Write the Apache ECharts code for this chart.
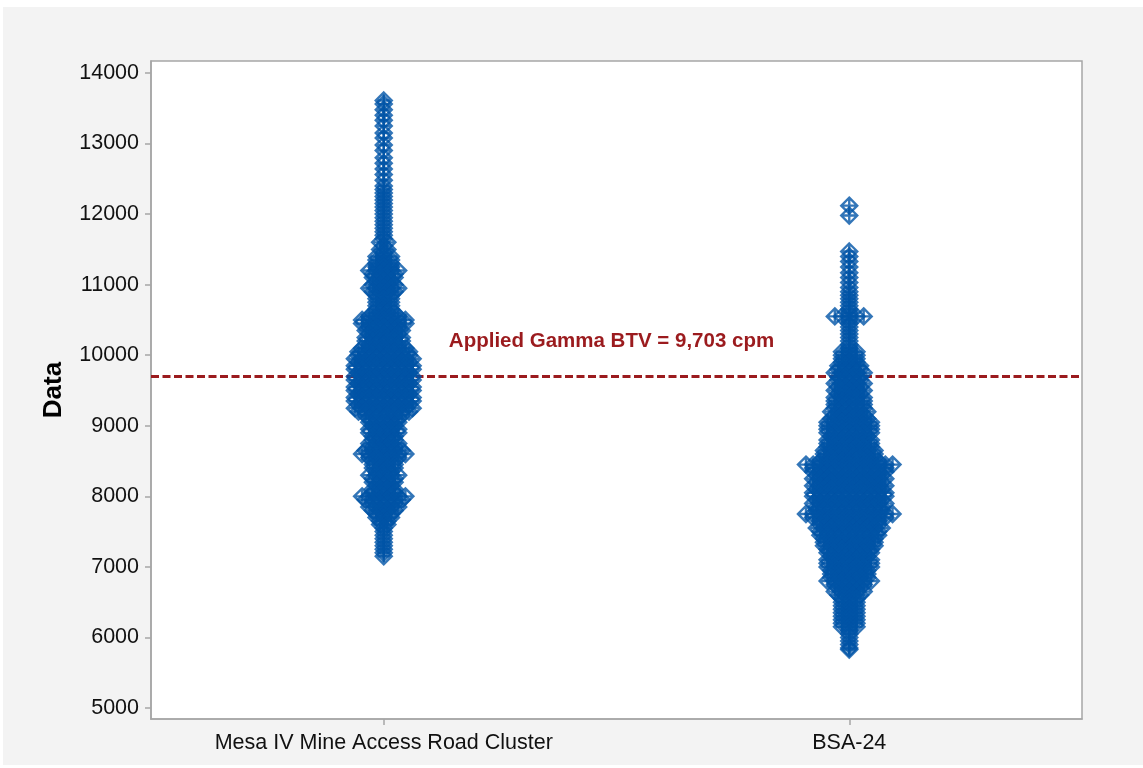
<!DOCTYPE html>
<html>
<head>
<meta charset="utf-8">
<title>Individual Value Plot</title>
<script src="https://cdn.jsdelivr.net/npm/echarts@6/dist/echarts.min.js"></script>
<style>
  html, body { margin: 0; padding: 0; background: #ffffff; }
  #chart { position: absolute; left: 3px; top: 7px; width: 1140px; height: 758px; }
</style>
</head>
<body>
<div id="chart"></div>
<script>
// Groups shown along the x axis
const categories = ['Mesa IV Mine Access Road Cluster', 'BSA-24'];

// Gamma readings (cpm), grouped into value levels with the number of readings at each level
const mesaLevels = [
  13610, 13560, 13480, 13400, 13330, 13250, 13150, 13080, 12980, 12900, 12800, 12720, 12640, 12560, 12480, 12400, 12350,
  12300, 12250, 12200, 12150, 12100, 12050, 12000, 11950, 11900, 11850, 11800, 11750, 11700, 11650, 11600, 11550, 11500, 11450,
  11400, 11350, 11300, 11250, 11200, 11150, 11100, 11050, 11000, 10950, 10900, 10850, 10800, 10750, 10700, 10650,
  10600, 10550, 10500, 10450, 10400, 10350, 10300, 10250, 10200, 10150, 10100, 10050, 10000,
  9950, 9900, 9850, 9800, 9750, 9700, 9650, 9600, 9550, 9500, 9450, 9400, 9350, 9300, 9250, 9200,
  9150, 9100, 9050, 9000, 8950, 8900, 8850, 8800, 8750, 8700, 8650, 8600, 8550, 8500, 8450, 8400, 8350, 8300, 8250,
  8200, 8150, 8100, 8050, 8000, 7950, 7900, 7850, 7800, 7750, 7700, 7650, 7600,
  7550, 7500, 7450, 7400, 7350, 7300, 7250, 7200, 7150
];
const mesaCounts = [
  1, 1, 1, 1, 1, 1, 1, 1, 1, 1, 1, 1, 1, 1, 1, 1, 1,
  1, 1, 1, 1, 1, 1, 1, 1, 1, 1, 1, 1, 1, 1, 2, 1, 2, 1,
  3, 3, 3, 3, 5, 4, 4, 3, 4, 5, 4, 3, 3, 3, 3, 3,
  4, 5, 7, 7, 5, 6, 5, 6, 6, 5, 7, 8, 8,
  9, 8, 9, 9, 8, 9, 9, 8, 9, 9, 8, 9, 9, 8, 9, 8,
  6, 5, 5, 4, 5, 5, 4, 4, 5, 4, 6, 7, 5, 4, 4, 4, 3, 5, 4,
  4, 3, 4, 4, 7, 6, 4, 5, 4, 3, 3, 2, 2,
  1, 1, 1, 1, 1, 1, 1, 1, 1
];

const bsaLevels = [
  12120, 11980,
  11470, 11400, 11330, 11250, 11170, 11100, 11030, 10960, 10900, 10850, 10800, 10750, 10700, 10650, 10600,
  10550, 10500, 10450, 10400, 10350, 10300, 10250, 10200, 10150, 10100,
  10050, 10000, 9950, 9900, 9850, 9800, 9750, 9700, 9650, 9600, 9550, 9500, 9450, 9400, 9350,
  9300, 9250, 9200, 9150, 9100, 9050, 9000, 8950, 8900, 8850, 8800, 8750, 8700, 8650, 8600, 8550, 8500,
  8450, 8400, 8350, 8300, 8250, 8200, 8150, 8100, 8050, 8000, 7950, 7900, 7850, 7800, 7750, 7700,
  7650, 7600, 7550, 7500, 7450, 7400, 7350, 7300, 7250, 7200, 7150, 7100, 7050,
  7000, 6950, 6900, 6850, 6800, 6750, 6700, 6650, 6600, 6550, 6500, 6450, 6400, 6350, 6300, 6250, 6200, 6150,
  6100, 6050, 6000, 5950, 5900, 5850, 5830
];
const bsaCounts = [
  1, 1,
  1, 1, 1, 1, 1, 1, 1, 1, 1, 1, 1, 1, 1, 1, 1,
  5, 1, 1, 1, 1, 1, 1, 1, 1, 1,
  3, 3, 3, 3, 4, 4, 5, 4, 4, 5, 4, 5, 4, 5, 5,
  5, 5, 6, 5, 6, 7, 7, 7, 7, 6, 7, 7, 7, 8, 8, 8, 9,
  13, 11, 11, 10, 11, 10, 11, 10, 11, 11, 10, 11, 10, 10, 13, 11,
  9, 9, 10, 9, 9, 8, 8, 8, 7, 7, 6, 7, 7,
  7, 6, 6, 6, 7, 5, 4, 5, 4, 3, 3, 3, 3, 3, 3, 3, 3, 3,
  1, 1, 1, 1, 1, 1, 1
];

// Applied background threshold value (cpm)
const btvValue = 9703;
const btvLabel = 'Applied Gamma BTV = 9,703 cpm';

// Y axis tick labels
const yTicks = [5000, 6000, 7000, 8000, 9000, 10000, 11000, 12000, 13000, 14000];

// Side-by-side spacing of readings that share a level (x-axis units)
const STACK_STEP = 0.0155;

// Lay the readings of one level side by side, centred on the group position
function stackLevels(levels, counts, groupIndex) {
  const pts = [];
  levels.forEach(function (v, i) {
    const n = counts[i];
    for (let k = 0; k < n; k++) {
      pts.push([groupIndex + (k - (n - 1) / 2) * STACK_STEP, v]);
    }
  });
  return pts;
}

const BLUE = '#0054a6';
const RED = '#9b1b1e';
const AXIS_GREY = '#a6a6a6';
const FONT = '"Liberation Sans", Arial, sans-serif';
const diamondPlus = 'path://M0,-8L8,0L0,8L-8,0Z M0,-8L0,8 M-8,0L8,0';

const chart = echarts.init(document.getElementById('chart'), null, { renderer: 'canvas' });

const scatterStyle = {
  type: 'scatter',
  symbol: diamondPlus,
  symbolSize: 16,
  z: 3,
  silent: true,
  itemStyle: { color: 'rgba(0,0,0,0)', borderColor: BLUE, borderWidth: 2.4 },
  emphasis: { disabled: true }
};

chart.setOption({
  backgroundColor: '#f3f3f3',
  animation: false,
  textStyle: { fontFamily: FONT },
  grid: {
    left: 148, top: 54, right: 61, bottom: 46,
    show: true, backgroundColor: '#ffffff', borderColor: AXIS_GREY, borderWidth: 1.5
  },
  xAxis: {
    type: 'value',
    min: -0.5,
    max: 1.5,
    splitLine: { show: false },
    axisLine: { show: true, onZero: false, lineStyle: { color: AXIS_GREY, width: 1.5 } },
    axisTick: { show: true, length: 6, customValues: [0, 1], lineStyle: { color: AXIS_GREY, width: 1.5 } },
    axisLabel: {
      customValues: [0, 1],
      formatter: function (v) { return categories[Math.round(v)]; },
      color: '#111111', fontSize: 21.5, fontFamily: FONT, margin: 13
    }
  },
  yAxis: {
    type: 'value',
    min: 4844,
    max: 14170,
    name: 'Data',
    nameLocation: 'middle',
    nameRotate: 90,
    nameGap: 84,
    nameTextStyle: { fontSize: 26, fontWeight: 'bold', color: '#000000', fontFamily: FONT },
    splitLine: { show: false },
    axisLine: { show: true, onZero: false, lineStyle: { color: AXIS_GREY, width: 1.5 } },
    axisTick: { show: true, length: 6, customValues: yTicks, lineStyle: { color: AXIS_GREY, width: 1.5 } },
    axisLabel: {
      customValues: yTicks,
      formatter: function (v) { return String(v); },
      color: '#111111', fontSize: 21.5, fontFamily: FONT, margin: 12
    }
  },
  series: [
    Object.assign({}, scatterStyle, {
      name: categories[0],
      data: stackLevels(mesaLevels, mesaCounts, 0),
      markLine: {
        z: 1,
        silent: true,
        symbol: ['none', 'none'],
        lineStyle: { color: RED, width: 3, type: [8, 3.5] },
        label: {
          show: true,
          position: 'middle',
          distance: 24,
          offset: [-5, 0],
          formatter: btvLabel,
          color: RED,
          fontSize: 20.5,
          fontWeight: 'bold',
          fontFamily: FONT
        },
        emphasis: { disabled: true },
        data: [{ yAxis: btvValue }]
      }
    }),
    Object.assign({}, scatterStyle, {
      name: categories[1],
      data: stackLevels(bsaLevels, bsaCounts, 1)
    })
  ]
});
</script>
</body>
</html>
